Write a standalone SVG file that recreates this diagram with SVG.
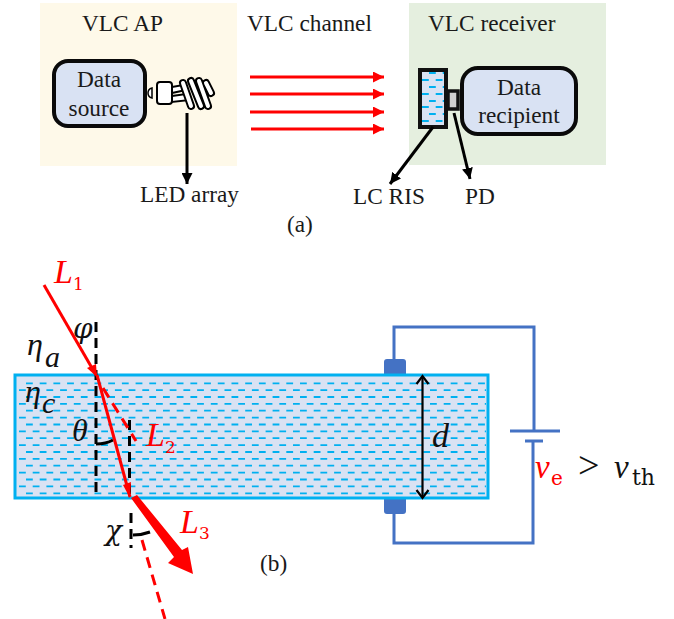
<svg xmlns="http://www.w3.org/2000/svg" width="674" height="619" viewBox="0 0 674 619">
<style>
.t{font-family:"Liberation Serif",serif;font-size:23.3px;fill:#1a1a1a}
.m{font-family:"Liberation Serif",serif;font-style:italic}
.g{font-family:"DejaVu Serif",serif;font-style:italic}
.u{font-family:"DejaVu Serif",serif}
.r{fill:#f00}
.k{fill:#111}
.box{fill:#d9e2f3;stroke:#0a0a0a;stroke-width:4}
.ray{stroke:#f00;stroke-width:3;fill:none;marker-end:url(#ra)}
.ptr{stroke:#000;stroke-width:3;fill:none;marker-end:url(#ka)}
.dash{stroke:#000;stroke-width:3;stroke-dasharray:10 6;fill:none}
.wire{stroke:#4472c4;stroke-width:3;fill:none}
.lc{stroke:#00b0f0;stroke-width:1.8;stroke-dasharray:6.8 6.9;fill:none}
.bulb{fill:#fff;stroke:#000;stroke-width:2}
.co{stroke:#000;stroke-width:8;stroke-linecap:round;fill:none}
.ci{stroke:#fff;stroke-width:4;stroke-linecap:round;fill:none}
</style>
<defs>
<marker id="ra" markerUnits="userSpaceOnUse" markerWidth="12" markerHeight="11" refX="11" refY="5.5" orient="auto"><path d="M0 0L11 5.5L0 11Z" fill="#f00"/></marker>
<marker id="ka" markerUnits="userSpaceOnUse" markerWidth="12" markerHeight="11" refX="11" refY="5.5" orient="auto"><path d="M0 0L11 5.5L0 11Z" fill="#000"/></marker>
</defs>
<g id="vlc-ap"><rect x="40" y="3" width="197" height="163" fill="#fef9e9"/><text class="t" x="82" y="31">VLC AP</text></g>
<g id="vlc-receiver"><rect x="409" y="3" width="197" height="162" fill="#e5efdf"/><text class="t" x="428" y="31">VLC receiver</text></g>
<g id="data-source"><rect class="box" x="54" y="61" width="91" height="65" rx="14"/><text class="t" x="99" y="87" text-anchor="middle">Data</text><text class="t" x="99" y="116" text-anchor="middle">source</text></g>
<g id="led-array">
<path d="M152 88Q148 89 148 93Q148 97 152 98Z" fill="#fff" stroke="#000" stroke-width="1.5"/>
<path class="bulb" d="M172 87L183 85L186 90L172 93ZM172 96L186 94L190 100L172 102Z"/>
<path class="co" d="M183 83L191 106M191 81L201 106M199 81L208 106M206 83L211 93"/>
<path class="ci" d="M183 83L191 106M191 81L201 106M199 81L208 106M206 83L211 93"/>
<rect class="bulb" x="157" y="82" width="15" height="22" rx="3"/>
<path class="ptr" d="M187 113L187 184"/>
<text class="t" x="140" y="202">LED array</text>
</g>
<g id="vlc-channel"><text class="t" x="247" y="31">VLC channel</text>
<path class="ray" d="M250 77L384 77"/><path class="ray" d="M250 94L384 94"/><path class="ray" d="M250 112L384 112"/><path class="ray" d="M251 129L384 129"/></g>
<g id="lc-ris"><rect x="420" y="70" width="26" height="57" fill="#d9e2f3" stroke="#111" stroke-width="4"/>
<path class="lc" d="M429 73H444M422 80H444M429 87H444M422 94H444M429 101H444M422 107H444M429 114H444M422 121H444"/>
<path class="ptr" d="M433 127L390 184"/>
<text class="t" x="353" y="204">LC RIS</text></g>
<g id="pd"><rect x="448" y="91" width="10" height="18" fill="#d0d0d0" stroke="#111" stroke-width="3.5"/>
<path class="ptr" d="M454 113L470 179"/>
<text class="t" x="465" y="204">PD</text></g>
<g id="data-recipient"><rect class="box" x="462" y="68" width="114" height="66" rx="16"/><text class="t" x="519" y="95" text-anchor="middle">Data</text><text class="t" x="519" y="123" text-anchor="middle">recipient</text></g>
<text class="t" x="287" y="232">(a)</text>
<g id="electrodes"><rect x="384" y="359" width="22" height="20" rx="3" fill="#4472c4"/><rect x="384" y="494" width="22" height="20" rx="3" fill="#4472c4"/></g>
<g id="lc-cell"><rect x="15" y="375" width="473" height="123" fill="#d9e2f3" stroke="#00b0f0" stroke-width="3"/>
<path class="lc" d="M26 383.300H486M26 397H486M26 410.700H486M26 424.500H486M26 438.200H486M26 452H486M26 465.700H486M26 479.500H486M26 493.300H486"/>
<path class="lc" d="M19 390.200H486M19 403.900H486M19 417.600H486M19 431.300H486M19 445.100H486M19 458.800H486M19 472.600H486M19 486.400H486"/></g>
<g id="connectors">
<path class="wire" d="M394 359V327H534V431"/><path class="wire" d="M394 514V543H533V441"/>
<path class="wire" d="M510 431H560M525 441H543"/>
<path d="M422.500 376V498" stroke="#000" stroke-width="2.200" fill="none"/>
<path d="M416.500 384L422.500 376L428.500 384M416.500 490L422.500 498L428.500 490" stroke="#000" stroke-width="2.200" fill="none"/>
<path class="dash" d="M96 322V495"/><path class="dash" d="M129.500 420V498"/><path class="dash" d="M131 513V548"/>
<path d="M96 444Q106 444 113 440M133 535Q142 535 150 532" stroke="#000" stroke-width="3" fill="none"/>
<path d="M103 388L136 441M142 540L165 619" stroke="#f00" stroke-width="3" stroke-dasharray="11 7" fill="none"/>
<path d="M44 285L96 375" stroke="#f00" stroke-width="3" fill="none"/>
<path d="M87 368L97 377L96 364Z" fill="#f00"/>
<path d="M97 375L130 497" stroke="#f00" stroke-width="3" fill="none"/>
<path d="M123 485L130 498L131 482Z" fill="#f00"/>
<path d="M131 498L137 495L182 550L188 547L193 574L168 563L174 557Z" fill="#f00"/>
</g>
<g id="labels">
<text class="m r" x="54" y="283" font-size="34">L</text><text class="u r" x="73" y="290" font-size="17">1</text>
<text class="g k" x="73" y="338" font-size="28">φ</text>
<text class="m k" x="27" y="355" font-size="32">η</text><text class="m k" x="45" y="367" font-size="30">a</text>
<text class="m k" x="25" y="402" font-size="32">η</text><text class="m k" x="42" y="413" font-size="30">c</text>
<text class="m k" x="72" y="441" font-size="32">θ</text>
<text class="m r" x="146" y="446" font-size="34">L</text><text class="u r" x="165" y="453" font-size="17">2</text>
<text class="g k" x="105" y="540" font-size="28">χ</text>
<text class="m r" x="180" y="533" font-size="34">L</text><text class="u r" x="199" y="539" font-size="17">3</text>
<text class="m k" x="432" y="447" font-size="34">d</text>
<text class="m r" x="535" y="478" font-size="33">v</text><text class="u r" x="551" y="485" font-size="20">e</text>
<text class="k" x="578" y="478" font-size="38" font-family="Liberation Serif,serif">&gt;</text>
<text class="m k" x="614" y="478" font-size="33">v</text><text class="u k" x="632" y="485" font-size="22">th</text>
<text class="t" x="260" y="571">(b)</text>
</g>
</svg>
